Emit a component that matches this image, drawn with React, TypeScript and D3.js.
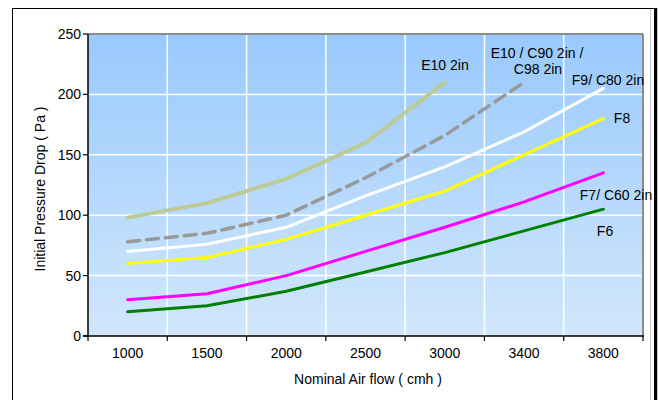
import React from "react";
import * as d3 from "d3";

const categories = ["1000", "1500", "2000", "2500", "3000", "3400", "3800"];
const yTicks = [0, 50, 100, 150, 200, 250];

const e10 = [98, 110, 130, 160, 210];
const e10c90 = [78, 85, 100, 131, 166, 210];
const f9 = [70, 76, 90, 116, 140, 169, 205];
const f8 = [60, 65, 80, 100, 120, 150, 180];
const f7 = [30, 35, 50, 70, 90, 111, 135];
const f6 = [20, 25, 37, 53, 69, 87, 105];

const seriesNames = ["E10 2in", "E10 / C90 2in / C98 2in", "F9/ C80 2in", "F8", "F7/ C60 2in", "F6"];

const W = 658;
const H = 400;
const plot = { left: 88, top: 34, right: 643, bottom: 336 };
const font = "Arial, 'Liberation Sans', sans-serif";
const fs = 14;

export default function App() {
  const x = d3.scaleBand<string>().domain(categories).range([plot.left, plot.right]);
  const y = d3.scaleLinear().domain([0, 250]).range([plot.bottom, plot.top]);
  const cx = (i: number) => (x(categories[i]) as number) + x.bandwidth() / 2;
  const line = d3
    .line<number>()
    .x((_, i) => cx(i))
    .y((d) => y(d));

  const series = [
    { name: seriesNames[0], data: e10, color: "#bccb95", width: 4, dash: undefined },
    { name: seriesNames[1], data: e10c90, color: "#999999", width: 3.5, dash: "12,7" },
    { name: seriesNames[2], data: f9, color: "#ffffff", width: 3, dash: undefined },
    { name: seriesNames[3], data: f8, color: "#ffff00", width: 3, dash: undefined },
    { name: seriesNames[4], data: f7, color: "#ff00ff", width: 3, dash: undefined },
    { name: seriesNames[5], data: f6, color: "#008000", width: 3, dash: undefined },
  ];

  const boundaries = categories.map((c) => x(c) as number).concat([plot.right]);

  return (
    <div style={{ position: "absolute", left: 0, top: 0 }}>
      <svg width={W} height={H} style={{ display: "block" }} fontFamily={font}>
        <defs>
          <linearGradient id="bg" x1="0" y1="0" x2="0" y2="1">
            <stop offset="0" stopColor="#99c9fd" />
            <stop offset="1" stopColor="#d1e7fb" />
          </linearGradient>
        </defs>
        <rect x={0} y={0} width={W} height={H} fill="#ffffff" />
        {/* outer frame */}
        <rect x={12.5} y={8.5} width={642} height={400} fill="none" stroke="#000" strokeWidth={1} />
        <line x1={656} y1={8} x2={656} y2={H} stroke="#000" strokeWidth={2.5} />
        <line x1={650.5} y1={9} x2={650.5} y2={H} stroke="#cccccc" strokeWidth={1} />

        {/* plot background */}
        <rect
          x={plot.left}
          y={plot.top}
          width={plot.right - plot.left}
          height={plot.bottom - plot.top}
          fill="url(#bg)"
        />
        {/* grid */}
        {yTicks.slice(1, -1).map((t) => (
          <line key={"gy" + t} x1={plot.left} x2={plot.right} y1={y(t)} y2={y(t)} stroke="#ffffff" strokeWidth={1.5} />
        ))}
        {boundaries.slice(1, -1).map((b, i) => (
          <line key={"gx" + i} x1={b} x2={b} y1={plot.top} y2={plot.bottom} stroke="#ffffff" strokeWidth={1.5} />
        ))}
        {/* plot border top/right */}
        <line x1={plot.left} x2={plot.right} y1={plot.top} y2={plot.top} stroke="#8c8c8c" strokeWidth={2} />
        <line x1={plot.right} x2={plot.right} y1={plot.top} y2={plot.bottom} stroke="#8c8c8c" strokeWidth={2} />

        {/* series */}
        {series.map((s) => (
          <path
            key={s.name}
            d={line(s.data) || ""}
            fill="none"
            stroke={s.color}
            strokeWidth={s.width}
            strokeDasharray={s.dash}
            strokeLinejoin="round"
            strokeLinecap="round"
          />
        ))}

        {/* axes */}
        <line x1={plot.left} x2={plot.left} y1={plot.top} y2={plot.bottom} stroke="#000" strokeWidth={1.5} />
        <line x1={plot.left - 5} x2={plot.right + 1} y1={plot.bottom} y2={plot.bottom} stroke="#000" strokeWidth={1.5} />
        {yTicks.map((t) => (
          <g key={"yt" + t}>
            <line x1={plot.left - 5} x2={plot.left} y1={y(t)} y2={y(t)} stroke="#000" strokeWidth={1.2} />
            <text x={plot.left - 7} y={y(t) + 5} textAnchor="end" fontSize={fs} fill="#000">
              {t}
            </text>
          </g>
        ))}
        {boundaries.map((b, i) => (
          <line key={"xt" + i} x1={b} x2={b} y1={plot.bottom} y2={plot.bottom + 5} stroke="#000" strokeWidth={1.2} />
        ))}
        {categories.map((c, i) => (
          <text key={"xl" + c} x={cx(i)} y={358} textAnchor="middle" fontSize={fs} fill="#000">
            {c}
          </text>
        ))}
        <text x={368} y={384} textAnchor="middle" fontSize={fs} fill="#000">
          Nominal Air flow ( cmh )
        </text>
        <text
          transform="translate(45,189) rotate(-90)"
          textAnchor="middle"
          fontSize={fs}
          fill="#000"
        >
          Initial Pressure Drop ( Pa )
        </text>

        {/* series labels */}
        <g fontSize={fs} fill="#000" textAnchor="middle">
          <text x={445} y={70}>{seriesNames[0]}</text>
          <text x={537} y={58}>E10 / C90 2in /</text>
          <text x={538} y={74}>C98 2in</text>
          <text x={608} y={85}>{seriesNames[2]}</text>
          <text x={622} y={123}>{seriesNames[3]}</text>
          <text x={616} y={200}>{seriesNames[4]}</text>
          <text x={605} y={236}>{seriesNames[5]}</text>
        </g>
      </svg>
    </div>
  );
}
